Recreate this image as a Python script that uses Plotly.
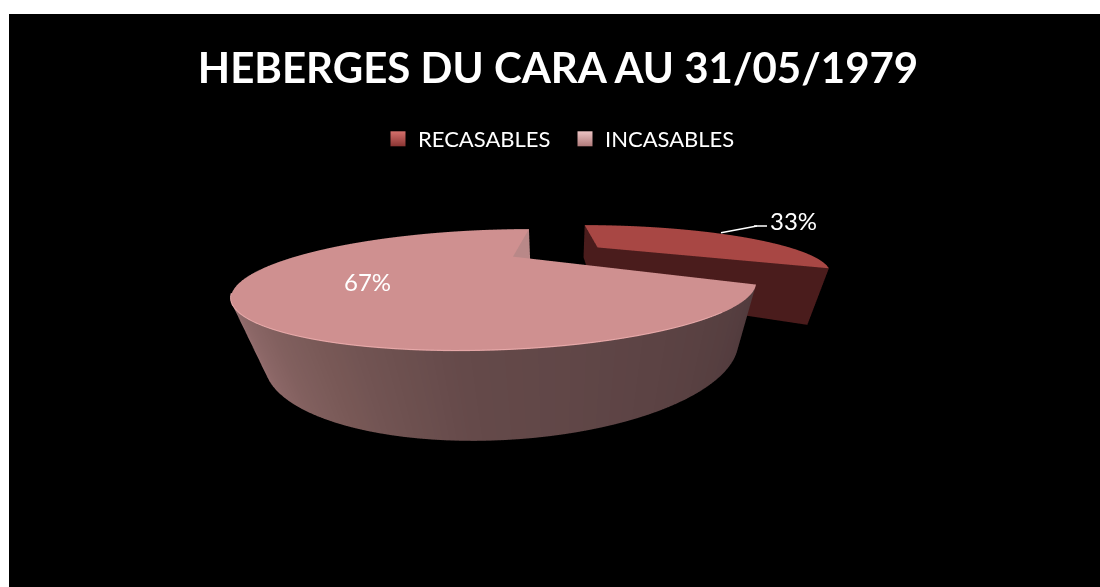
import numpy as np
import plotly.graph_objects as go

TITLE = "HEBERGES DU CARA AU 31/05/1979"
labels = ["RECASABLES", "INCASABLES"]
values = [33, 67]
explode = [0.48, 0.0]
top_colors = ["#a84744", "#cf9090"]
wall_colors = ["#4a1c1c", "#b98888"]
legend_colors = ["#d5706c", "#edc4c4"]
legend_shades = ["#8a3533", "#b07a7a"]
side_stops = [
    [(0, "#4a1c1c"), (360, "#4a1c1c")],
    [(120, "#503a3c"), (180, "#654a4a"), (200, "#7a5a58"), (220, "#8f6a6a"), (235, "#a97f7f"), (360, "#b58a8a")],
]
W, H = 1100, 587
FONT = "Lato, Carlito, Calibri, sans-serif"
THICK = 0.29
STRETCH = 1.16
ELEV = np.radians(25.3)
CAM_HEIGHT = 0.3745
CAM_GROUND = 1.645
CAM_SIDE = 0.24
PP_X, PP_Y = 558, 325
SCENE_H = 256
L = 1.9   # half-range of the scene in pie radii


def hex2rgb(c):
    return np.array([int(c[i:i + 2], 16) for i in (1, 3, 5)], float)


def lerp_col(stops, a):
    xs = [s[0] for s in stops]
    cs = np.array([hex2rgb(s[1]) for s in stops])
    return [np.interp(a, xs, cs[:, k]) for k in range(3)]


def rgb(c):
    return "rgb(%d,%d,%d)" % tuple(int(round(v)) for v in c)


def wedge(a0, a1, off, top, wall, stops):
    th = np.radians(np.linspace(a0, a1, 120))
    bis = np.radians((a0 + a1) / 2)
    ox, oy = off * np.sin(bis), off * np.cos(bis)
    xs, ys, zs, I, J, K, C = [], [], [], [], [], [], []

    def add(x, y, z, c):
        xs.append(x + ox); ys.append(y + oy); zs.append(z); C.append(rgb(c))
        return len(xs) - 1

    tc, wc = hex2rgb(top), hex2rgb(wall)
    c0 = add(0, 0, 0, tc)
    rim = [add(np.sin(t), np.cos(t), 0, tc) for t in th]
    for a, b in zip(rim[:-1], rim[1:]):
        I.append(c0); J.append(a); K.append(b)
    prev = None
    for t in th:
        col = lerp_col(stops, np.degrees(t))
        u = add(np.sin(t), np.cos(t), 0, col)
        d = add(np.sin(t), np.cos(t), -THICK, col)
        if prev:
            I += [prev[0], u]; J += [prev[1], prev[1]]; K += [u, d]
        prev = (u, d)
    for t in (th[0], th[-1]):
        p = [add(0, 0, 0, wc), add(np.sin(t), np.cos(t), 0, wc),
             add(np.sin(t), np.cos(t), -THICK, wc), add(0, 0, -THICK, wc)]
        I += [p[0], p[0]]; J += [p[1], p[2]]; K += [p[2], p[3]]
    return xs, ys, zs, I, J, K, C


fig = go.Figure()
total = sum(values)
start = 0.0
for i, v in enumerate(values):
    sweep = 360.0 * v / total
    x, y, z, ii, jj, kk, cols = wedge(start, start + sweep, explode[i], top_colors[i], wall_colors[i], side_stops[i])
    fig.add_trace(go.Mesh3d(x=x, y=y, z=z, i=ii, j=jj, k=kk, vertexcolor=cols, flatshading=False,
                            lighting=dict(ambient=1, diffuse=0, specular=0, fresnel=0, roughness=1),
                            hoverinfo="skip", showlegend=False, showscale=False))
    start += sweep

th = np.radians(np.linspace(140, 234, 100))
fig.add_trace(go.Scatter3d(x=np.sin(th), y=np.cos(th), z=np.zeros_like(th) + 0.002, mode="lines",
                           line=dict(color="#e8aaaa", width=2), hoverinfo="skip", showlegend=False))

for n, c, g in zip(labels, legend_colors, legend_shades):
    fig.add_trace(go.Scatter(x=[None], y=[None], mode="markers", name=n,
                             marker=dict(symbol="square", size=15, color=c,
                                         gradient=dict(type="vertical", color=g))))

unit = 1.0 / (2 * L)


def px(x): return x / W
def py(y): return 1 - y / H


def ann(text, x, y):
    return dict(text=text, x=px(x), y=py(y), xref="paper", yref="paper", showarrow=False,
                font=dict(family=FONT, size=24, color="white"), xanchor="center", yanchor="middle")


def seg(x0, y0, x1, y1):
    return dict(x=px(x1), y=py(y1), xref="paper", yref="paper", ax=x0 - x1, ay=y0 - y1, text=" ",
                width=1, height=1, borderpad=0, font=dict(size=1),
                showarrow=True, arrowhead=0, arrowwidth=1.5, arrowcolor="white", standoff=0, startstandoff=0)


look_y = -CAM_GROUND + CAM_HEIGHT / np.tan(ELEV)
half_w = 530
fig.update_layout(
    width=W, height=H, margin=dict(l=0, r=0, t=0, b=0),
    paper_bgcolor="white", plot_bgcolor="rgba(0,0,0,0)",
    title=dict(text="<b>%s</b>" % TITLE, x=px(558), y=py(68), xanchor="center", yanchor="middle",
               font=dict(family=FONT, size=42, color="white")),
    shapes=[dict(type="rect", xref="paper", yref="paper", x0=px(9), x1=1, y0=0, y1=py(14),
                 fillcolor="black", line_width=0, layer="below")],
    xaxis=dict(visible=False), yaxis=dict(visible=False),
    legend=dict(orientation="h", x=px(378), y=py(139), xanchor="left", yanchor="middle",
                entrywidth=142, entrywidthmode="pixels",
                font=dict(family=FONT, size=22, color="white"), bgcolor="rgba(0,0,0,0)"),
    annotations=[ann(f"{values[0]}%", 793, 220), ann(f"{values[1]}%", 367, 282),
                 seg(720, 233, 757, 226), seg(753, 226, 767, 226)],
    scene=dict(
        domain=dict(x=[px(PP_X - half_w), px(PP_X + half_w)], y=[py(PP_Y + SCENE_H / 2), py(PP_Y - SCENE_H / 2)]),
        xaxis=dict(visible=False, range=[-L, L]),
        yaxis=dict(visible=False, range=[-L, L]),
        zaxis=dict(visible=False, range=[-L, L]),
        aspectmode="manual", aspectratio=dict(x=STRETCH, y=1, z=1),
        bgcolor="black",
        camera=dict(eye=dict(x=CAM_SIDE * unit, y=-CAM_GROUND * unit, z=CAM_HEIGHT * unit),
                    center=dict(x=CAM_SIDE * unit, y=look_y * unit, z=0), up=dict(x=0, y=0, z=1),
                    projection=dict(type="perspective")),
    ),
)
fig.write_html("out.html", config={"displayModeBar": False}, post_script="document.body.style.margin='0';")
